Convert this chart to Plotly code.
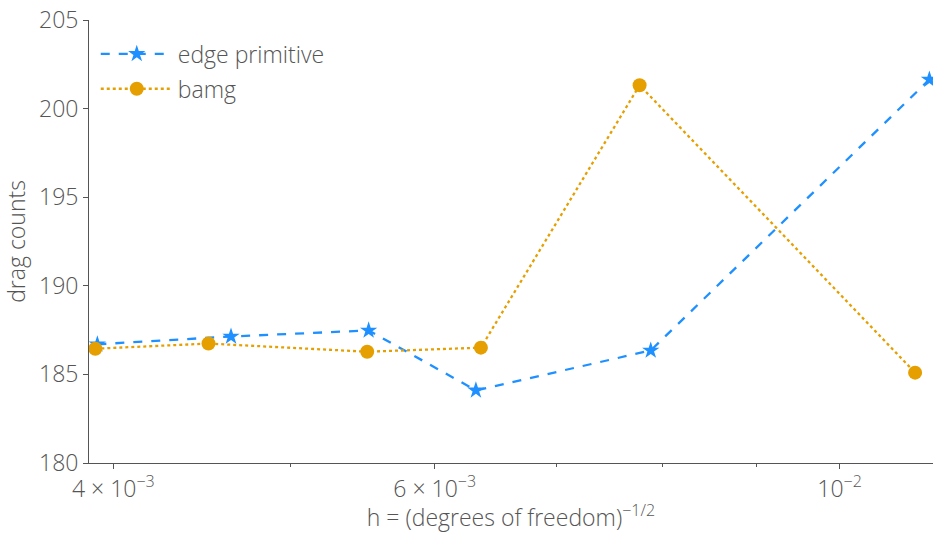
import plotly.graph_objects as go

# Mesh size h and resulting drag counts for the two meshing strategies
edge_h = [0.00392, 0.00464, 0.00552, 0.00632, 0.00788, 0.0112]
edge_drag = [186.7, 187.14, 187.48, 184.1, 186.35, 201.64]

bamg_h = [0.00391, 0.00451, 0.00551, 0.00636, 0.00777, 0.0110]
bamg_drag = [186.45, 186.74, 186.28, 186.51, 201.32, 185.1]

x_major = [0.004, 0.006, 0.01]
x_major_text = ["4 × 10<sup>−3</sup>", "6 × 10<sup>−3</sup>", "10<sup>−2</sup>"]
x_minor = [0.005, 0.007, 0.008, 0.009]
y_ticks = [180, 185, 190, 195, 200, 205]

FONT = "Open Sans"
GREY = "#555555"
TXT = dict(family=FONT, size=23, color=GREY, weight=300)

fig = go.Figure()
fig.add_trace(go.Scatter(
    x=edge_h, y=edge_drag, mode="lines+markers", name="edge primitive",
    legendgroup="edge",
    line=dict(color="#1E90FF", width=2.3, dash="dash"),
    marker=dict(symbol="star", size=13, color="#1E90FF"),
))
fig.add_trace(go.Scatter(
    x=bamg_h, y=bamg_drag, mode="lines+markers", name="bamg",
    legendgroup="bamg",
    line=dict(color="#E69F00", width=2.3, dash="dot"),
    marker=dict(symbol="circle", size=14, color="#E69F00"),
))

fig.update_layout(
    width=933, height=533,
    margin=dict(l=89, r=0, t=20, b=70),
    plot_bgcolor="white", paper_bgcolor="white",
    font=TXT,
    legend=dict(x=0.008, y=0.972, xanchor="left", yanchor="top",
                bgcolor="rgba(0,0,0,0)", font=TXT,
                itemwidth=72, tracegroupgap=2),
    xaxis=dict(
        type="log", range=[-2.4113, -1.9488],
        tickmode="array", tickvals=x_major, ticktext=x_major_text,
        ticks="outside", ticklen=5, tickcolor=GREY,
        minor=dict(tickmode="array", tickvals=x_minor, ticks="outside",
                   ticklen=3, tickcolor=GREY, showgrid=False),
        showgrid=False, zeroline=False,
        showline=True, linecolor=GREY, linewidth=1,
        tickfont=TXT,
        title=dict(text="h = (degrees of freedom)<sup>−1/2</sup>",
                   font=TXT, standoff=10),
    ),
    yaxis=dict(
        range=[180, 205], tickvals=y_ticks,
        ticks="outside", ticklen=5, tickcolor=GREY,
        showgrid=False, zeroline=False,
        showline=True, linecolor=GREY, linewidth=1,
        tickfont=TXT,
        title=dict(text="drag counts", font=TXT, standoff=6),
    ),
)

fig.write_html("out.html")
